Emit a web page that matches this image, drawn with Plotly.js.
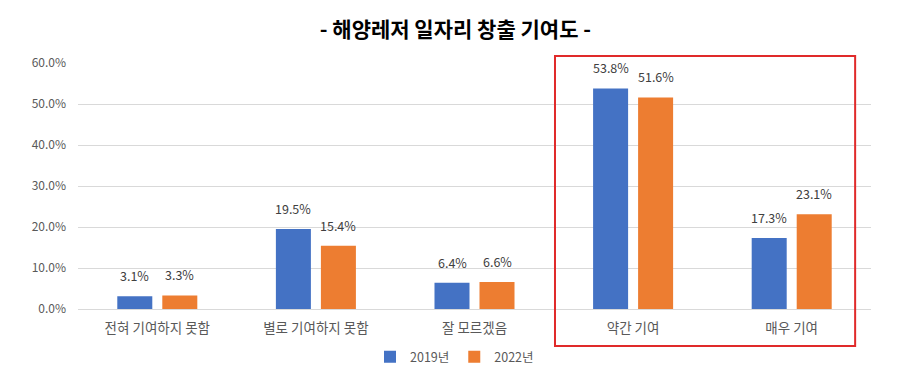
<!DOCTYPE html>
<html><head><meta charset="utf-8">
<script src="https://cdn.plot.ly/plotly-3.0.1.min.js"></script>
<style>html,body{margin:0;padding:0;background:#fff;}#chart{width:900px;height:376px;}</style>
</head><body><div id="chart"></div>
<script>
const categories = ["전혀 기여하지 못함", "별로 기여하지 못함", "잘 모르겠음", "약간 기여", "매우 기여"];
const series2019 = [3.1, 19.5, 6.4, 53.8, 17.3];
const series2022 = [3.3, 15.4, 6.6, 51.6, 23.1];
const yTicks = [0, 10, 20, 30, 40, 50, 60];
const yTickLabels = ["0.0%", "10.0%", "20.0%", "30.0%", "40.0%", "50.0%", "60.0%"];

const font = '"Noto Sans CJK KR", "Noto Sans", sans-serif';
const mk = (name, vals, color) => ({
  type: 'bar', name: name, x: categories, y: vals,
  marker: {color: color},
  hoverinfo: 'none'
});
const data = [mk('2019년', series2019, '#4472C4'), mk('2022년', series2022, '#ED7D31')];
const labelAnn = (vals, shift) => vals.map((v, i) => ({
  x: categories[i], y: v, xref: 'x', yref: 'y', text: v.toFixed(1) + '%',
  showarrow: false, xshift: shift, yshift: 9, yanchor: 'bottom',
  font: {family: font, size: 12.5, color: '#404040'}
}));
const layout = {
  width: 900, height: 376,
  margin: {l: 78, r: 29, t: 63, b: 67},
  paper_bgcolor: '#fff', plot_bgcolor: '#fff',
  font: {family: font, color: '#595959'},
  title: {text: '<b>- 해양레저 일자리 창출 기여도 -</b>', x: 0.506, xanchor: 'center', y: 0.92, yanchor: 'middle',
          font: {family: font, size: 21, color: '#000'}},
  barmode: 'group', bargap: 0.4325, bargroupgap: 0.222,
  xaxis: {type: 'category', showgrid: false, zeroline: false, showline: false, ticks: '',
          tickfont: {family: font, size: 13.5, color: '#595959'}, ticklabelstandoff: 9},
  yaxis: {range: [0, 60], tickvals: yTicks, ticktext: yTickLabels, showgrid: true, gridcolor: '#d9d9d9',
          gridwidth: 1, zeroline: true, zerolinecolor: '#d9d9d9', showline: false, ticks: '',
          tickfont: {family: font, size: 12, color: '#595959'}, ticklabelstandoff: 11},
  legend: {orientation: 'h', x: 0.505, xref: 'container', xanchor: 'center', y: 0.05, yref: 'container', yanchor: 'middle',
           font: {family: font, size: 12.5, color: '#595959'}, itemwidth: 30, traceorder: 'normal'},
  annotations: labelAnn(series2019, -22.5).concat(labelAnn(series2022, 22.5)),
  shapes: [{type: 'rect', xref: 'paper', yref: 'paper', x0: 0.6015, x1: 0.980, y0: -0.150, y1: 1.028,
            line: {color: '#E02A2A', width: 2}, fillcolor: 'rgba(0,0,0,0)'}],
  showlegend: true
};
Plotly.newPlot('chart', data, layout, {displayModeBar: false, staticPlot: true});
</script></body></html>
